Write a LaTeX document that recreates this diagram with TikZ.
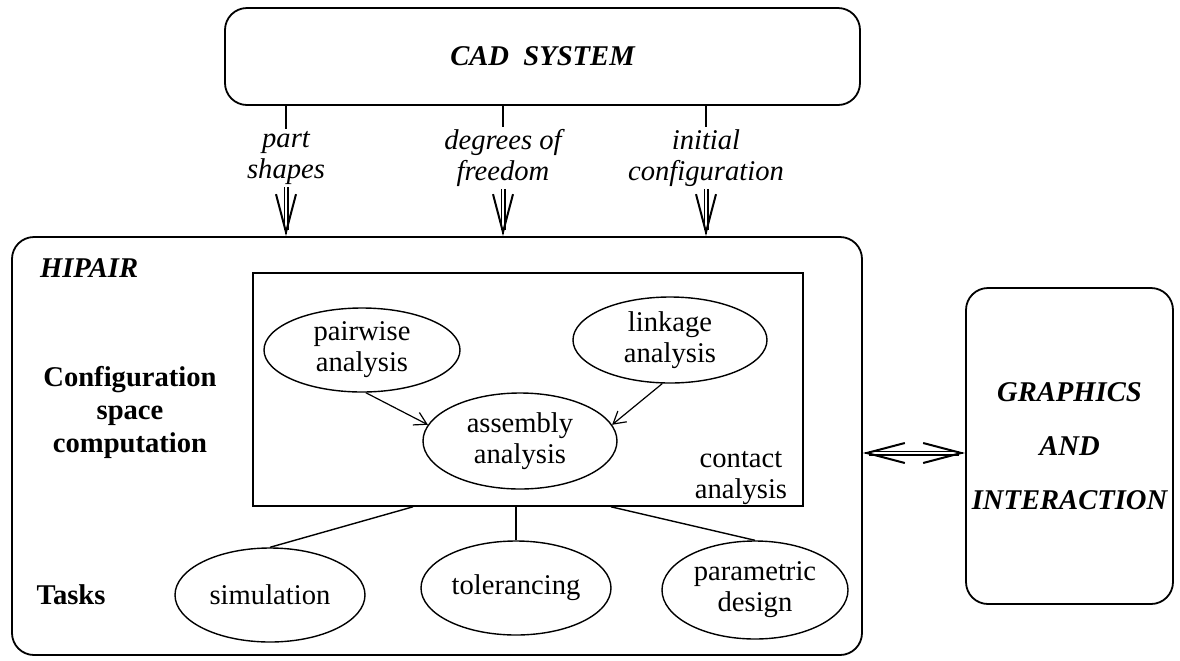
\documentclass[tikz,border=0pt]{standalone}
\usepackage{fontspec}
\setmainfont{Liberation Serif}
\usetikzlibrary{arrows.meta,shapes.geometric}

\begin{document}
\begin{tikzpicture}[x=.5pt,y=-.5pt,
    txt/.style={font=\fontsize{14.3}{15.5}\selectfont},
    oval/.style={ellipse,draw,line width=.7pt,inner sep=0,align=center,txt},
    rbox/.style={draw,line width=.9pt,rounded corners=11pt,inner sep=0},
    head/.style={font=\fontsize{14.3}{16}\selectfont\bfseries\itshape},
    feed/.style={align=center,fill=white,inner sep=1pt,font=\fontsize{14.3}{15.5}\selectfont\itshape},
    feedline/.style={line width=.7pt},
    dshaft/.style={line width=.6pt,double distance=1.3pt,shorten >=3pt},
    barb/.style={line width=1pt,-{Straight Barb[length=19pt,width=10pt]}},
    flow/.style={line width=.6pt,-{Straight Barb[length=6pt,width=7pt]}}]
  \useasboundingbox (0,0) rectangle (1180,660);

  % outer boxes
  \node[rbox,head,minimum width=317.5pt,minimum height=48.5pt] (cad) at (542.5,56.5) {CAD\ \ SYSTEM};
  \node[rbox,minimum width=425pt,minimum height=209pt] (hipair) at (437,446) {};
  \node[rbox,head,align=center,minimum width=103.5pt,minimum height=158pt,
        font=\fontsize{14.3}{27}\selectfont\bfseries\itshape] (gfx) at (1069.5,446) {GRAPHICS\\AND\\INTERACTION};

  % inputs from the CAD system
  \node[feed] (shapes) at (286,158) {part\\shapes};
  \node[feed] (dof) at (503,158) {degrees of\\freedom};
  \node[feed] (initconf) at (706,158) {initial\\configuration};
  \foreach \n in {shapes,dof,initconf}{
    \draw[feedline] (cad.south -| \n) -- (\n.north);
    \draw[dshaft] (\n.south) -- (\n.south |- hipair.north);
    \draw[barb] ([yshift=1pt]\n.south |- hipair.north) -- (\n.south |- hipair.north);
  }

  % link to graphics
  \coordinate (hl) at ([yshift=-3.5pt]hipair.east);
  \coordinate (hr) at (hl -| gfx.west);
  \draw[dshaft,shorten <=3pt] (hl) -- (hr);
  \draw[barb] ([xshift=1pt]hl) -- (hl);
  \draw[barb] ([xshift=-1pt]hr) -- (hr);

  % inside HIPAIR
  \node[head,anchor=west] (hiname) at (33,268) {HIPAIR};
  \node[align=center,font=\fontsize{14.3}{16.5}\selectfont\bfseries] (cspace) at (130,412) {Configuration\\space\\computation};
  \node[font=\fontsize{14.3}{16}\selectfont\bfseries] (tasks) at (71,595) {Tasks};

  \node[draw,line width=.8pt,inner sep=0,minimum width=275pt,minimum height=116.5pt] (contact) at (528,389.5) {};
  \node[txt,align=center] (contactlbl) at (741,478) {contact\\analysis};

  \node[oval,minimum width=98pt,minimum height=42pt] (pairwise) at (362,350) {pairwise\\analysis};
  \node[oval,minimum width=97pt,minimum height=43pt] (linkage) at (670,340) {linkage\\analysis};
  \node[oval,minimum width=97pt,minimum height=48pt] (assembly) at (520,441) {assembly\\analysis};
  \draw[flow] (pairwise.-85) -- (assembly.170);
  \draw[flow] (linkage.-100) -- (assembly.10);

  % tasks
  \node[oval,minimum width=95pt,minimum height=47pt] (simulation) at (270,595) {simulation};
  \node[oval,minimum width=95pt,minimum height=47pt] (tolerancing) at (516,588) {tolerancing};
  \node[oval,minimum width=93pt,minimum height=49pt] (parametric) at (755,590) {parametric\\design};
  \draw[feedline] ([xshift=-57.5pt]contact.south) -- (simulation.north);
  \draw[feedline] (tolerancing.north |- contact.south) -- (tolerancing.north);
  \draw[feedline] ([xshift=41.5pt]contact.south) -- (parametric.north);
\end{tikzpicture}
\end{document}
